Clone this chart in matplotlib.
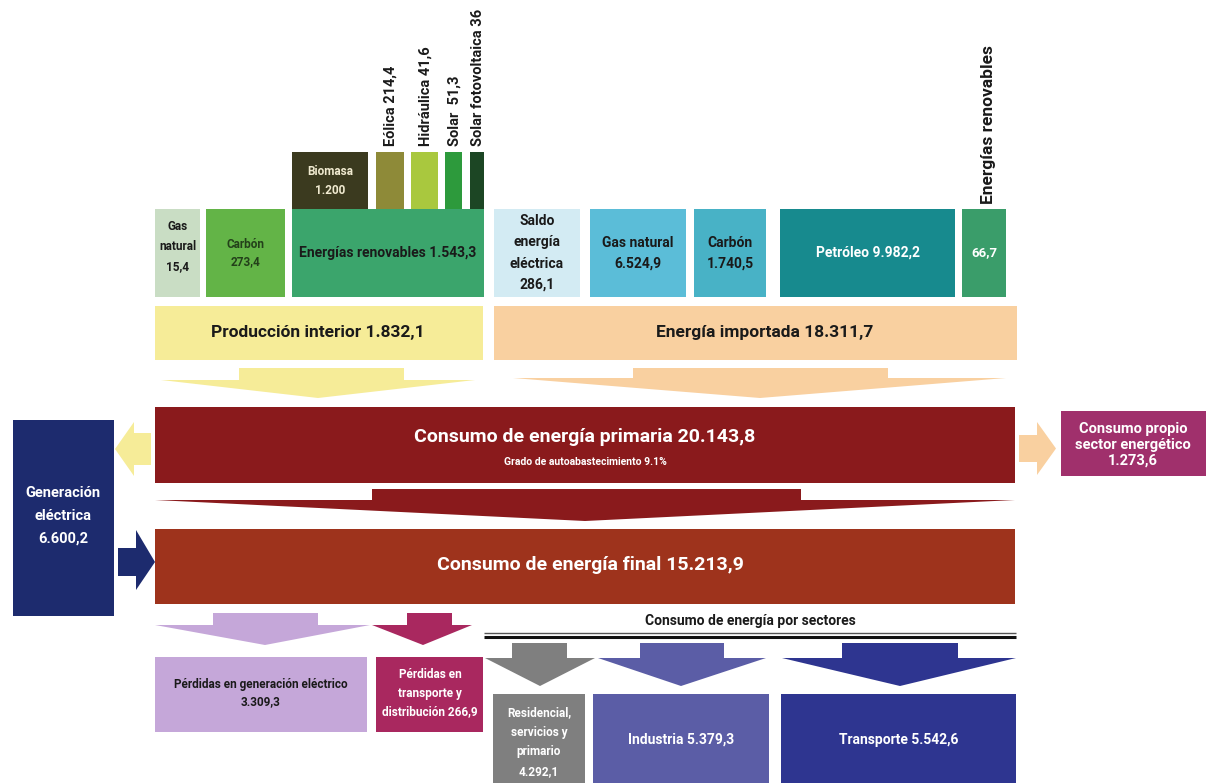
import matplotlib.pyplot as plt
from matplotlib.patches import Rectangle, Polygon

plt.rcParams['font.family'] = ['Roboto', 'DejaVu Sans']

# --- datos (ktep) ---
prod_nombres = ["Gas\nnatural", "Carbón", "Energías renovables"]
prod_valores = [15.4, 273.4, 1543.3]
renov_nombres = ["Biomasa", "Eólica", "Hidráulica", "Solar ", "Solar fotovoltaica"]
renov_valores = [1200, 214.4, 41.6, 51.3, 36]
imp_nombres = ["Saldo\nenergía\neléctrica", "Gas natural", "Carbón", "Petróleo", "Energías renovables"]
imp_valores = [286.1, 6524.9, 1740.5, 9982.2, 66.7]
produccion_interior = 1832.1
energia_importada = 18311.7
consumo_primaria = 20143.8
autoabastecimiento = "9.1%"
consumo_final = 15213.9
generacion_electrica = 6600.2
consumo_propio = 1273.6
perdidas_generacion = 3309.3
perdidas_transporte = 266.9
sector_nombres = ["Residencial,\nservicios y\nprimario", "Industria", "Transporte"]
sector_valores = [4292.1, 5379.3, 5542.6]


def es(v):
    s = f"{v:,}" if isinstance(v, int) else f"{v:,.1f}"
    return s.replace(",", "X").replace(".", ",").replace("X", ".")


def caja(ax, x0, x1, y0, y1, color):
    ax.add_patch(Rectangle((x0, y0), x1 - x0, y1 - y0, facecolor=color, edgecolor='none'))


def flecha_abajo(ax, rx0, rx1, ry0, ry1, tl, tr, ax_, ay, color):
    pts = [(rx0, ry0), (rx1, ry0), (rx1, ry1), (tr, ry1), (ax_, ay), (tl, ry1), (rx0, ry1)]
    ax.add_patch(Polygon(pts, closed=True, facecolor=color, edgecolor='none'))


def flecha_lado(ax, rx0, rx1, ry0, ry1, hx, hy0, hy1, tx, color):
    # hx: base of head, tx: tip x
    cy = (ry0 + ry1) / 2
    if tx > hx:
        pts = [(rx0, ry0), (hx, ry0), (hx, hy0), (tx, cy), (hx, hy1), (hx, ry1), (rx0, ry1)]
    else:
        pts = [(rx1, ry0), (hx, ry0), (hx, hy0), (tx, cy), (hx, hy1), (hx, ry1), (rx1, ry1)]
    ax.add_patch(Polygon(pts, closed=True, facecolor=color, edgecolor='none'))


def txt(ax, x, y, s, size, color='#1a1a1a', ls=1.45):
    ax.text(x, y, s, ha='center', va='center', fontsize=size, color=color,
            fontweight='bold', linespacing=ls)


fig = plt.figure(figsize=(12.06, 7.83), dpi=100)
ax = fig.add_axes([0, 0, 1, 1])
ax.set_xlim(0, 1206)
ax.set_ylim(783, 0)
ax.axis('off')

# --- producción interior: fuentes ---
prod_pos = [(155, 200), (206, 285), (292, 484)]
prod_col = ['#c9ddc4', '#63b447', '#3ba56c']
prod_txtcol = ['#1a1a1a', '#23401a', '#1a1a1a']
for (x0, x1), c, n, v, tc in zip(prod_pos, prod_col, prod_nombres, prod_valores, prod_txtcol):
    caja(ax, x0, x1, 209, 297, c)
    if n == "Energías renovables":
        txt(ax, (x0 + x1) / 2, 253, f"{n} {es(v)}", 10, tc)
    elif "\n" in n:
        txt(ax, (x0 + x1) / 2, 247, f"{n}\n{es(v)}", 8.5, tc, 1.7)
    else:
        txt(ax, (x0 + x1) / 2, 253, f"{n}\n{es(v)}", 8.5, tc, 1.5)

renov_pos = [(292, 368), (376, 404), (411, 438), (445, 462), (470, 484)]
renov_col = ['#3b3a1f', '#8e8a38', '#a9c83e', '#2d9a3c', '#1c4624']
for i, ((x0, x1), c, n, v) in enumerate(zip(renov_pos, renov_col, renov_nombres, renov_valores)):
    caja(ax, x0, x1, 152, 209, c)
    if i == 0:
        txt(ax, (x0 + x1) / 2, 181, f"{n}\n{es(v)}", 8.5, '#f0ead0', 1.55)
    else:
        ax.text((x0 + x1) / 2 + 1, 146, f"{n} {es(v)}", rotation=90, ha='center', va='bottom',
                fontsize=10.5, fontweight='bold', color='#1a1a1a')

# --- energía importada: fuentes ---
imp_pos = [(494, 580), (590, 686), (694, 766), (780, 955), (962, 1006)]
imp_col = ['#d3ebf3', '#5bbdd8', '#48b2c6', '#178a8e', '#3a9d6a']
for i, ((x0, x1), c, n, v) in enumerate(zip(imp_pos, imp_col, imp_nombres, imp_valores)):
    caja(ax, x0, x1, 209, 297, c)
    cx = (x0 + x1) / 2
    if i == 0:
        txt(ax, cx, 253, f"{n}\n{es(v)}", 10, ls=1.65)
    elif i in (1, 2):
        txt(ax, cx, 253, f"{n}\n{es(v)}", 10, ls=1.6)
    elif i == 3:
        txt(ax, cx, 253, f"{n} {es(v)}", 10, 'white')
    else:
        txt(ax, cx, 253, es(v), 9.5, 'white')
        ax.text(cx + 4, 204, n, rotation=90, ha='center', va='bottom',
                fontsize=12.5, fontweight='bold', color='#1a1a1a')

# --- totales de origen ---
caja(ax, 155, 483, 306, 360, '#f6ec98')
txt(ax, 318, 333, f"Producción interior {es(produccion_interior)}", 12.5)
caja(ax, 494, 1017, 306, 360, '#f9d0a0')
txt(ax, 765, 333, f"Energía importada {es(energia_importada)}", 12.5)

flecha_abajo(ax, 239, 404, 368, 380, 161, 475, 318, 398, '#f6ec98')
flecha_abajo(ax, 633, 888, 368, 378, 513, 1006, 760, 398, '#f9d0a0')

# --- consumo de energía primaria ---
caja(ax, 155, 1015, 407, 483, '#8a1a1c')
txt(ax, 585, 437, f"Consumo de energía primaria {es(consumo_primaria)}", 14, 'white')
txt(ax, 585, 462, f"Grado de autoabastecimiento {autoabastecimiento}", 7.5, 'white')

flecha_abajo(ax, 372, 801, 489, 500, 155, 1015, 585, 521, '#8a1a1c')

# --- consumo de energía final ---
caja(ax, 155, 1015, 529, 604, '#9e331c')
txt(ax, 590, 565, f"Consumo de energía final {es(consumo_final)}", 14, 'white')

# --- generación eléctrica ---
caja(ax, 13, 114, 420, 616, '#1d2b6e')
txt(ax, 63, 516, f"Generación\neléctrica\n{es(generacion_electrica)}", 10.5, 'white', 1.8)
flecha_lado(ax, 134, 151, 433, 465, 134, 422, 476, 115, '#f6ec98')
flecha_lado(ax, 118, 136, 548, 576, 136, 530, 590, 155, '#1d2b6e')

# --- consumo propio ---
flecha_lado(ax, 1019, 1037, 435, 462, 1037, 422, 475, 1056, '#f9d0a0')
caja(ax, 1061, 1206, 411, 476, '#a0306c')
txt(ax, 1133, 445, f"Consumo propio\nsector energético\n{es(consumo_propio)}", 10.5, 'white', 1.15)

# --- pérdidas ---
flecha_abajo(ax, 213, 318, 613, 625, 155, 370, 265, 645, '#c5a7d9')
caja(ax, 155, 367, 657, 732, '#c5a7d9')
txt(ax, 261, 693, f"Pérdidas en generación eléctrico\n{es(perdidas_generacion)}", 8.5, ls=1.4)

flecha_abajo(ax, 407, 452, 613, 625, 372, 472, 423, 645, '#a9285f')
caja(ax, 376, 483, 657, 732, '#a9285f')
txt(ax, 430, 693, f"Pérdidas en\ntransporte y\ndistribución {es(perdidas_transporte)}", 8.5, 'white', 1.55)

# --- consumo por sectores ---
txt(ax, 750, 621, "Consumo de energía por sectores", 10)
ax.plot([484, 1016], [633, 633], color='#555555', lw=1.0, solid_capstyle='butt')
ax.plot([484, 1016], [636.5, 636.5], color='#111111', lw=2.2, solid_capstyle='butt')

sector_pos = [(493, 585), (593, 769), (781, 1016)]
sector_flecha = [(512, 567, 485, 595, 540), (640, 724, 598, 766, 681), (842, 958, 782, 1016, 900)]
sector_col = ['#7f7f7f', '#5b5da6', '#2e3590']
for (x0, x1), (r0, r1, t0, t1, a), c, n, v in zip(sector_pos, sector_flecha, sector_col,
                                                   sector_nombres, sector_valores):
    flecha_abajo(ax, r0, r1, 643, 658, t0, t1, a, 686, c)
    caja(ax, x0, x1, 694, 783, c)
    if "\n" in n:
        txt(ax, (x0 + x1) / 2, 742, f"{n}\n{es(v)}", 8.5, 'white', 1.65)
    else:
        txt(ax, (x0 + x1) / 2, 740, f"{n} {es(v)}", 10, 'white')

fig.savefig("out.png", dpi=100)
